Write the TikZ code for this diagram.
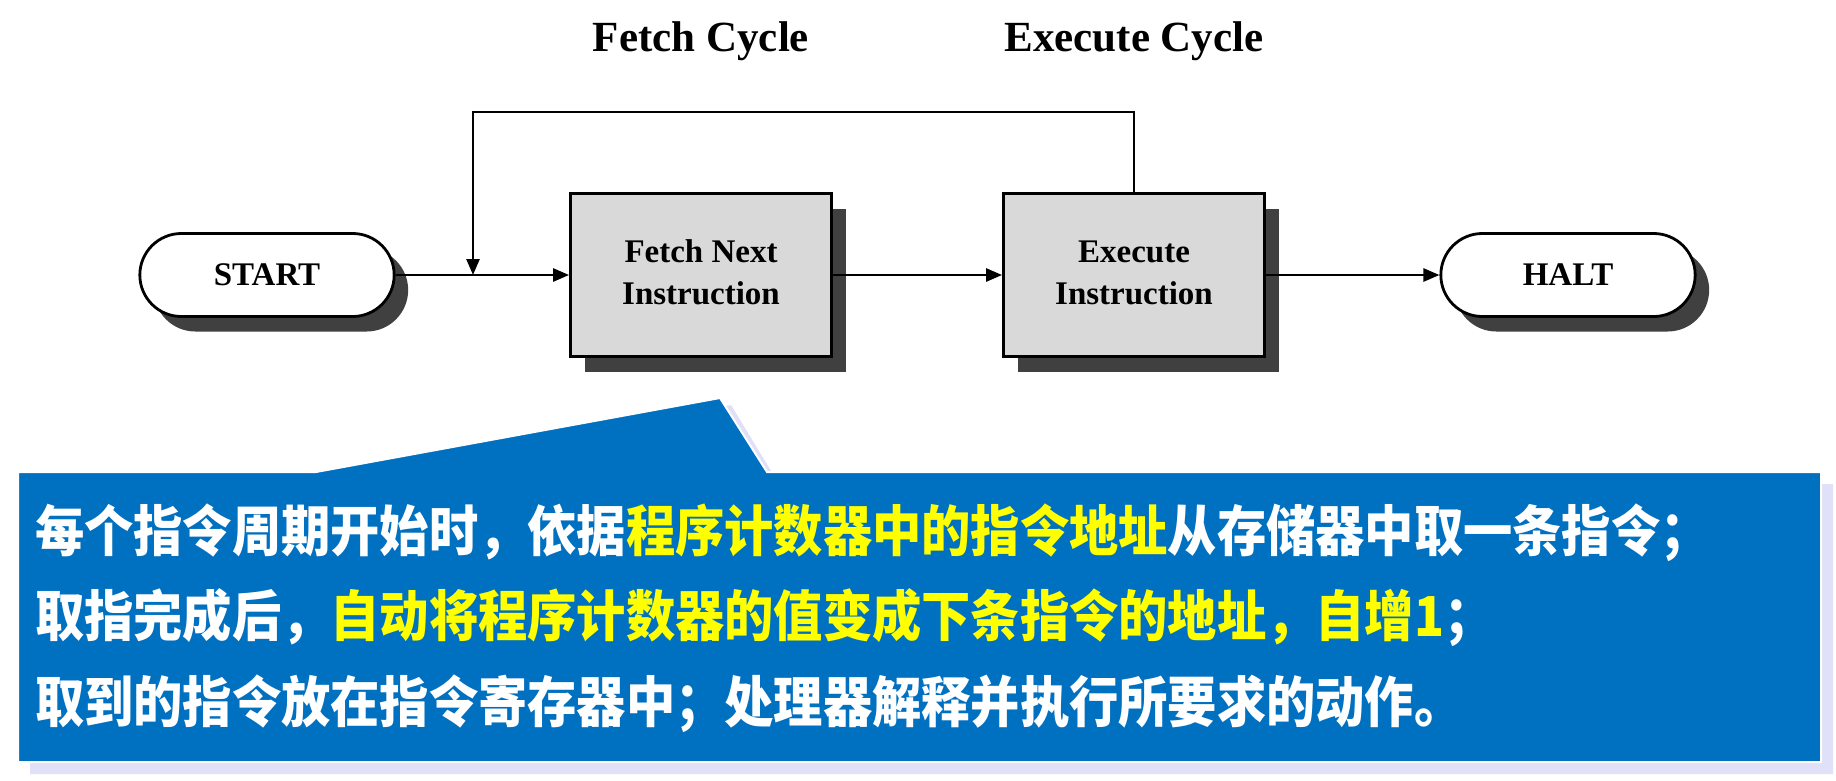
\documentclass[tikz,border=0pt]{standalone}
\usepackage{fontspec}
\setmainfont{Liberation Serif}
\newfontfamily\cjk{Noto Sans CJK SC}
\usetikzlibrary{shapes.misc,shadows,arrows.meta}
\definecolor{calloutblue}{HTML}{0070C0}
\definecolor{shadowlav}{HTML}{E0E0F8}
\definecolor{boxgray}{HTML}{D9D9D9}
\definecolor{shadowgray}{HTML}{404040}
\definecolor{hiyellow}{HTML}{FFFF00}
\newcommand{\boxlines}[2]{\raisebox{6pt}{\begin{tabular}{@{}c@{}}#1\\#2\end{tabular}}}
\tikzset{
  flowbox/.style={draw=black, line width=2.8pt, fill=boxgray, minimum width=261pt, minimum height=163pt,
    align=center, font=\bfseries\fontsize{33}{42}\selectfont,
    drop shadow={shadow xshift=14pt, shadow yshift=-15pt, fill=shadowgray, opacity=1}},
  terminal/.style={draw=black, line width=2.8pt, fill=white, rounded rectangle, minimum width=261pt, minimum height=83pt,
    font=\bfseries\fontsize{33}{42}\selectfont,
    drop shadow={shadow xshift=14pt, shadow yshift=-15pt, fill=shadowgray, opacity=1}},
  flow/.style={line width=2.6pt, -{Triangle[length=16pt,width=13pt]}},
  cyclelabel/.style={font=\bfseries\fontsize{43}{43}\selectfont},
  cjkline/.style={anchor=west, inner sep=0pt, font=\cjk\bfseries\fontsize{50}{50}\selectfont, text=white,
    xscale=0.985, yscale=1.1, transform shape},
}
\begin{document}
\begin{tikzpicture}[x=1pt,y=-1pt]
\useasboundingbox (0,0) rectangle (1836,780);
\fill[white] (0,0) rectangle (1836,780);

% top labels
\node[cyclelabel] (fc) at (701,41) {Fetch Cycle};
\node[cyclelabel] (ec) at (1134,41) {Execute Cycle};

% nodes
\node[terminal] (start) at (267,275) {START};
\node[flowbox] (fetch) at (701,275) {\boxlines{Fetch Next}{Instruction}};
\node[flowbox] (exec) at (1134,275) {\boxlines{Execute}{Instruction}};
\node[terminal] (halt) at (1568,275) {HALT};

\coordinate (loopL) at (473,112);
\coordinate (join) at (473,275);

% connectors
\draw[flow] (start.east) -- (fetch.west);
\draw[flow] (fetch.east) -- (exec.west);
\draw[flow] (exec.east) -- (halt.west);
\draw[flow] (exec.north) -- (exec.north |- loopL) -- (loopL) -- (join);

% callout
\fill[shadowlav] (30,484) -- (328,484) -- (731,405) -- (779,484) -- (1833,484) -- (1833,774) -- (30,774) -- cycle;
\filldraw[fill=calloutblue, draw=white, line width=2pt] (18,472) -- (316,472) -- (720,398) -- (767,472) -- (1821,472) -- (1821,762) -- (18,762) -- cycle;

\node[cjkline] (l1) at (35,533) {每个指令周期开始时，依据\textcolor{hiyellow}{程序计数器中的指令地址}从存储器中取一条指令；};
\node[cjkline] (l2) at (35,618) {取指完成后，\textcolor{hiyellow}{自动将程序计数器的值变成下条指令的地址，自增1}；};
\node[cjkline] (l3) at (35,704) {取到的指令放在指令寄存器中；处理器解释并执行所要求的动作。};
\end{tikzpicture}
\end{document}
